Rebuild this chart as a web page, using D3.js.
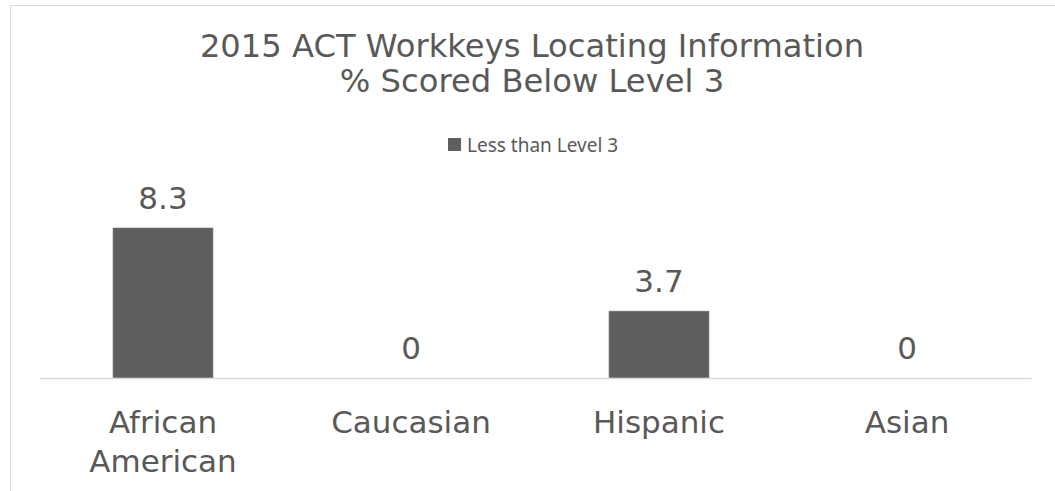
<!DOCTYPE html>
<html>
<head>
<meta charset="utf-8">
<script src="https://cdn.jsdelivr.net/npm/d3@7"></script>
<style>
  body { margin: 0; background: #fff; }
  svg { display: block; }
</style>
</head>
<body>
<div id="chart"></div>
<script>
  var categories = [["African", "American"], ["Caucasian"], ["Hispanic"], ["Asian"]];
  var values = [8.3, 0, 3.7, 0];
  var titleLines = ["2015 ACT Workkeys Locating Information", "% Scored Below Level 3"];
  var seriesName = "Less than Level 3";

  var W = 1055, H = 491;
  var grey = "#595959";

  var svg = d3.select("#chart").append("svg")
      .attr("width", W)
      .attr("height", H);

  // chart area border (runs off the right and bottom edge)
  svg.append("rect")
      .attr("x", 10.5).attr("y", 5.5)
      .attr("width", W + 20).attr("height", H + 20)
      .attr("fill", "none")
      .attr("stroke", "#d9d9d9");

  var x = d3.scaleBand()
      .domain(categories.map(function (c) { return c.join(" "); }))
      .range([39, 1031])
      .paddingInner(0.597)
      .paddingOuter(0.2985);

  var y = d3.scaleLinear()
      .domain([0, d3.max(values)])
      .range([378, 228]);

  // title
  svg.append("text")
      .attr("x", 531).attr("y", 57)
      .attr("text-anchor", "middle")
      .style("font-family", "DejaVu Sans")
      .style("font-size", "32.2px")
      .attr("fill", grey)
      .selectAll("tspan").data(titleLines).enter().append("tspan")
      .attr("x", 532)
      .attr("dy", function (d, i) { return i ? 35 : 0; })
      .text(function (d) { return d; });

  // legend
  var legend = svg.append("g");
  legend.append("rect")
      .attr("x", 448).attr("y", 138)
      .attr("width", 13).attr("height", 13)
      .attr("fill", "#5f5f5f");
  legend.append("text")
      .attr("x", 467).attr("y", 152)
      .style("font-family", "Noto Sans")
      .style("font-size", "19px")
      .attr("fill", grey)
      .text(seriesName);

  var rows = categories.map(function (c, i) { return { key: c.join(" "), lines: c, v: values[i] }; });

  // bars
  svg.selectAll("rect.bar").data(rows).enter().append("rect")
      .attr("class", "bar")
      .attr("x", function (d) { return x(d.key); })
      .attr("y", function (d) { return y(d.v); })
      .attr("width", x.bandwidth())
      .attr("height", function (d) { return y(0) - y(d.v); })
      .attr("fill", "#5f5f5f")
      .attr("stroke", "#7a7a7a")
      .attr("stroke-width", 0.6);

  // axis line
  var axis = svg.append("g")
      .attr("transform", "translate(0," + y(0) + ")")
      .call(d3.axisBottom(x).tickSize(0).tickFormat(""));
  axis.select(".domain").attr("stroke", "#d9d9d9").attr("stroke-width", 1.5);

  // value labels
  svg.selectAll("text.val").data(rows).enter().append("text")
      .attr("class", "val")
      .attr("x", function (d) { return x(d.key) + x.bandwidth() / 2; })
      .attr("y", function (d) { return y(d.v) - 19; })
      .attr("text-anchor", "middle")
      .style("font-family", "DejaVu Sans")
      .style("font-size", "31px")
      .attr("fill", grey)
      .text(function (d) { return d.v; });

  // category labels
  svg.selectAll("text.cat").data(rows).enter().append("text")
      .attr("class", "cat")
      .attr("y", 433)
      .attr("text-anchor", "middle")
      .style("font-family", "DejaVu Sans")
      .style("font-size", "31px")
      .attr("fill", grey)
      .each(function (d) {
        var cx = x(d.key) + x.bandwidth() / 2;
        d3.select(this).selectAll("tspan").data(d.lines).enter().append("tspan")
            .attr("x", cx)
            .attr("dy", function (t, i) { return i ? 38.5 : 0; })
            .text(function (t) { return t; });
      });
</script>
</body>
</html>
